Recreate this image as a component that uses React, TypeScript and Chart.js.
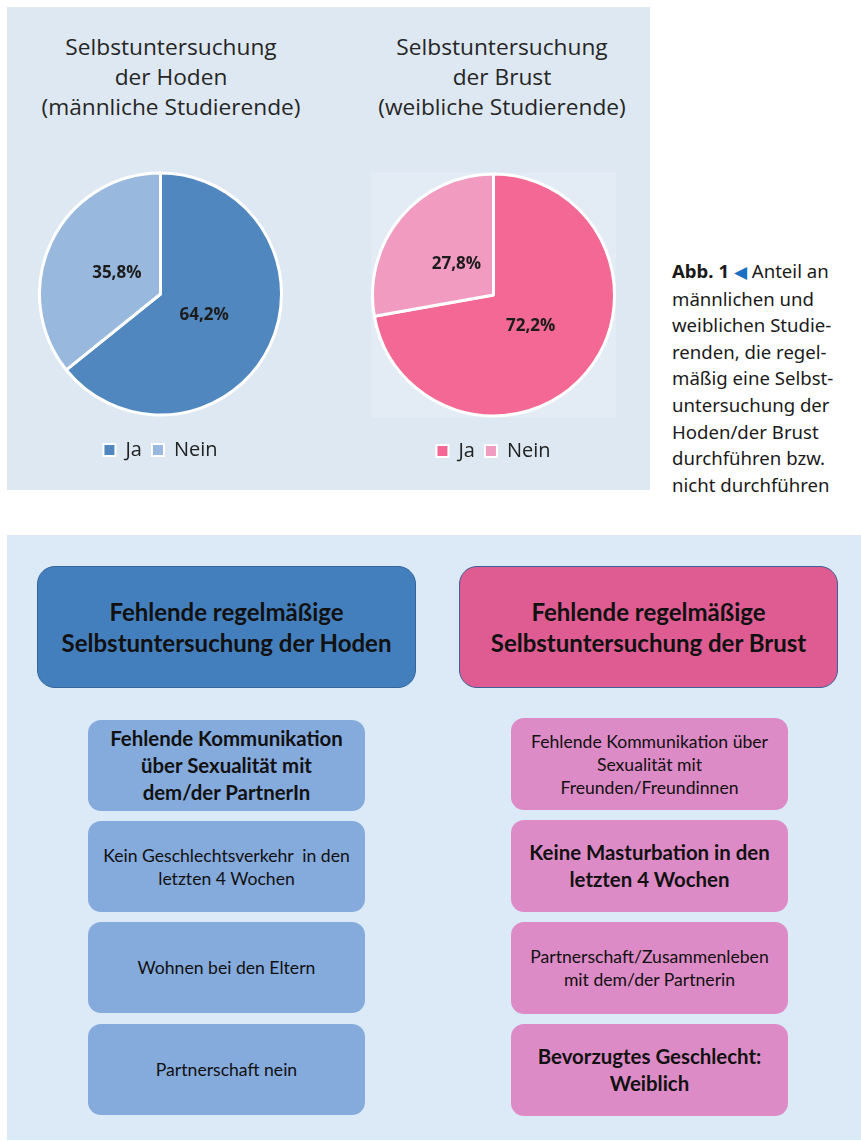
import React, { useEffect, useRef } from "react";
import { Chart, registerables } from "chart.js";

Chart.register(...registerables);
Chart.defaults.font.family = "'Open Sans', sans-serif";

// ---- data ----
const categories = ["Ja", "Nein"];
const maleValues = [64.2, 35.8];
const femaleValues = [72.2, 27.8];
const maleTitle = ["Selbstuntersuchung", "der Hoden", "(männliche Studierende)"];
const femaleTitle = ["Selbstuntersuchung", "der Brust", "(weibliche Studierende)"];
const maleColors = ["#4f87be", "#98b8dd"];
const femaleColors = ["#f46895", "#f29bc1"];

const captionLines = [
  "männlichen und",
  "weiblichen Studie-",
  "renden, die regel-",
  "mäßig eine Selbst-",
  "untersuchung der",
  "Hoden/der Brust",
  "durchführen bzw.",
  "nicht durchführen",
];

const maleHeader = ["Fehlende regelmäßige", "Selbstuntersuchung der Hoden"];
const femaleHeader = ["Fehlende regelmäßige", "Selbstuntersuchung der Brust"];

type Item = { lines: string[]; bold: boolean };
const maleItems: Item[] = [
  { lines: ["Fehlende Kommunikation", "über Sexualität mit", "dem/der PartnerIn"], bold: true },
  { lines: ["Kein Geschlechtsverkehr  in den", "letzten 4 Wochen"], bold: false },
  { lines: ["Wohnen bei den Eltern"], bold: false },
  { lines: ["Partnerschaft nein"], bold: false },
];
const femaleItems: Item[] = [
  { lines: ["Fehlende Kommunikation über", "Sexualität mit", "Freunden/Freundinnen"], bold: false },
  { lines: ["Keine Masturbation in den", "letzten 4 Wochen"], bold: true },
  { lines: ["Partnerschaft/Zusammenleben", "mit dem/der Partnerin"], bold: false },
  { lines: ["Bevorzugtes Geschlecht:", "Weiblich"], bold: true },
];

// ---- plugins ----
const pctLabels = {
  id: "pctLabels",
  afterDatasetsDraw(chart: any) {
    const ctx = chart.ctx;
    const meta = chart.getDatasetMeta(0);
    const ds = chart.data.datasets[0];
    meta.data.forEach((arc: any, i: number) => {
      const p = arc.getProps(["x", "y", "startAngle", "endAngle", "outerRadius"], true);
      const mid = (p.startAngle + p.endAngle) / 2;
      const r = p.outerRadius * 0.4;
      ctx.save();
      ctx.font = "bold 17px 'Open Sans', sans-serif";
      ctx.fillStyle = "#1c1c1c";
      ctx.textAlign = "center";
      ctx.textBaseline = "middle";
      ctx.fillText(
        ds.data[i].toFixed(1).replace(".", ",") + "%",
        p.x + Math.cos(mid) * r,
        p.y + Math.sin(mid) * r
      );
      ctx.restore();
    });
  },
};

const squareBackdrop = {
  id: "squareBackdrop",
  beforeDatasetsDraw(chart: any, _args: any, opts: any) {
    if (!opts || !opts.color) return;
    const meta = chart.getDatasetMeta(0);
    const arc = meta.data[0];
    if (!arc) return;
    const p = arc.getProps(["x", "y", "outerRadius"], true);
    const ctx = chart.ctx;
    ctx.save();
    ctx.fillStyle = opts.color;
    const r = p.outerRadius + 1.5;
    ctx.fillRect(p.x - r, p.y - r, 2 * r, 2 * r);
    ctx.restore();
  },
};

const CW = 245;
const CH = 312;

function PieChart(props: { values: number[]; colors: string[]; left: number; top: number; backdrop?: string }) {
  const ref = useRef<HTMLCanvasElement>(null);
  useEffect(() => {
    const chart = new Chart(ref.current as HTMLCanvasElement, {
      type: "pie",
      data: {
        labels: categories,
        datasets: [
          {
            data: props.values,
            backgroundColor: props.colors,
            borderColor: "#ffffff",
            borderWidth: 3,
          },
        ],
      },
      options: {
        responsive: false,
        animation: false,
        layout: { padding: 0 },
        plugins: {
          legend: {
            position: "bottom",
            labels: {
              font: { family: "'Open Sans', sans-serif", size: 20 },
              color: "#222222",
              boxWidth: 12,
              boxHeight: 12,
              padding: 10,
              generateLabels: (c: any) => {
                const base = (Chart as any).overrides.pie.plugins.legend.labels.generateLabels(c);
                return base.map((b: any) => ({ ...b, lineWidth: 2 }));
              },
            },
          },
          tooltip: { enabled: false },
          squareBackdrop: { color: props.backdrop || null },
        } as any,
      },
      plugins: [squareBackdrop, pctLabels],
    } as any);
    return () => chart.destroy();
  }, []);
  return (
    <canvas
      ref={ref}
      width={CW}
      height={CH}
      style={{ position: "absolute", left: props.left, top: props.top, width: CW, height: CH }}
    />
  );
}

function Title(props: { lines: string[]; cx: number }) {
  return (
    <div
      style={{
        position: "absolute",
        left: props.cx - 160,
        top: 32,
        width: 320,
        textAlign: "center",
        fontFamily: "'Open Sans', sans-serif",
        fontSize: 22.7,
        lineHeight: "30px",
        color: "#262626",
      }}
    >
      {props.lines.map((l, i) => (
        <div key={i}>{l}</div>
      ))}
    </div>
  );
}

function Box(props: {
  left: number;
  top: number;
  width: number;
  height: number;
  bg: string;
  radius: number;
  border?: string;
  lines: string[];
  bold: boolean;
  fontSize: number;
  lineHeight: number;
}) {
  return (
    <div
      style={{
        position: "absolute",
        left: props.left,
        top: props.top,
        width: props.width,
        height: props.height,
        boxSizing: "border-box",
        background: props.bg,
        borderRadius: props.radius,
        border: props.border || "none",
        display: "flex",
        flexDirection: "column",
        alignItems: "center",
        justifyContent: "center",
        textAlign: "center",
        fontFamily: "Lato, sans-serif",
        fontWeight: props.bold ? 700 : 400,
        fontSize: props.fontSize,
        lineHeight: props.lineHeight + "px",
        color: "#111111",
        whiteSpace: "pre",
      }}
    >
      {props.lines.map((l, i) => (
        <div key={i}>{l}</div>
      ))}
    </div>
  );
}

const smallTopsLeft = [720, 821, 922, 1024];
const smallTopsRight = [718, 820, 922, 1024];

export default function App() {
  return (
    <div style={{ position: "absolute", left: 0, top: 0, width: 861, height: 1141, background: "#ffffff" }}>
      {/* top panel */}
      <div style={{ position: "absolute", left: 7, top: 7, width: 643, height: 483, background: "#dee8f2" }} />
      <Title lines={maleTitle} cx={171} />
      <Title lines={femaleTitle} cx={502} />
      <PieChart values={maleValues} colors={maleColors} left={38} top={158} />
      <PieChart values={femaleValues} colors={femaleColors} left={371} top={159} backdrop="#e3ecf5" />

      {/* caption */}
      <div
        style={{
          position: "absolute",
          left: 672,
          top: 258,
          fontFamily: "'Noto Sans', sans-serif",
          fontSize: 18.6,
          lineHeight: "26.6px",
          color: "#1a1a1a",
          whiteSpace: "nowrap",
        }}
      >
        <div>
          <b>Abb. 1</b> <span style={{ color: "#1b6fc2", fontSize: 17 }}>◀</span> Anteil an
        </div>
        {captionLines.map((l, i) => (
          <div key={i}>{l}</div>
        ))}
      </div>

      {/* bottom panel */}
      <div style={{ position: "absolute", left: 7, top: 535, width: 854, height: 605, background: "#dce9f7" }} />
      <Box left={37} top={566} width={379} height={122} bg="#447fbd" radius={18} border="1.5px solid #33669c"
        lines={maleHeader} bold={true} fontSize={24} lineHeight={31} />
      <Box left={459} top={566} width={379} height={122} bg="#de5c91" radius={18} border="1.5px solid #3f5f99"
        lines={femaleHeader} bold={true} fontSize={24} lineHeight={31} />
      {maleItems.map((it, i) => (
        <Box key={"m" + i} left={88} top={smallTopsLeft[i]} width={277} height={91} bg="#85aadc" radius={13}
          lines={it.lines} bold={it.bold} fontSize={it.bold ? 20.4 : 17.6} lineHeight={it.bold ? 27 : 23} />
      ))}
      {femaleItems.map((it, i) => (
        <Box key={"f" + i} left={511} top={smallTopsRight[i]} width={277} height={92} bg="#dd8bc6" radius={13}
          lines={it.lines} bold={it.bold} fontSize={it.bold ? 20.4 : 17.6} lineHeight={it.bold ? 27 : 23} />
      ))}
    </div>
  );
}
